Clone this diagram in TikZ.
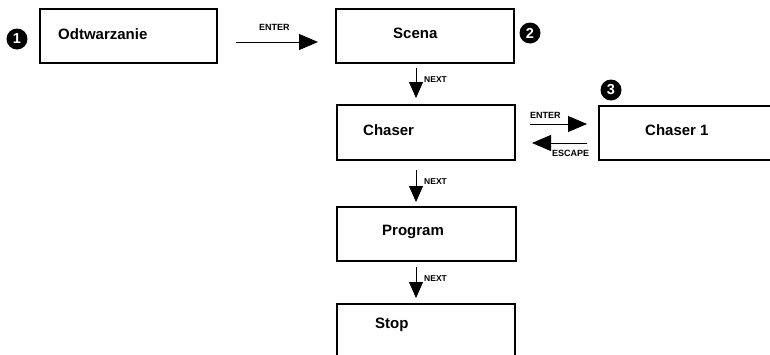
\documentclass[tikz,border=0pt]{standalone}
\usepackage{fontspec}
\setmainfont{Liberation Sans}
\usetikzlibrary{arrows.meta}
\begin{document}
\begin{tikzpicture}[x=1pt,y=-1pt,
  box/.style={draw=black,line width=1.1pt,inner sep=0pt,outer sep=0pt,minimum height=54pt},
  txt/.style={anchor=base west,inner sep=0pt,font=\fontsize{15}{15}\selectfont\bfseries},
  lbl/.style={anchor=base west,inner sep=0pt,font=\fontsize{8.5}{8.5}\selectfont\bfseries},
  num/.style={circle,fill=black,text=white,inner sep=0pt,minimum size=21pt,font=\fontsize{14.5}{14.5}\selectfont\bfseries},
  arrh/.style={line width=0.8pt,-{Triangle[length=19pt,width=16pt]}},
  arrv/.style={line width=0.8pt,-{Triangle[length=16pt,width=14pt]}},
]
\clip (0,0) rectangle (770,354);
\useasboundingbox (0,0) rectangle (770,354);

% boxes
\node[box,minimum width=177pt] (b1) at (128.5,36) {};
\node[box,minimum width=178pt] (scena) at (425,36) {};
\node[box,minimum width=178pt,minimum height=55pt] (chaser) at (426,132.5) {};
\node[box,minimum width=201pt] (chaser1) at (699.5,133) {};
\node[box,minimum width=179pt] (program) at (426.5,234) {};
\node[box,minimum width=178pt,minimum height=60pt] (stop) at (426,334) {};

% box texts
\node[txt] (t1) at (58,39) {Odtwarzanie};
\node[txt] (t2) at (393,38) {Scena};
\node[txt] (t3) at (363,135) {Chaser};
\node[txt] (t4) at (645,135) {Chaser 1};
\node[txt] (t5) at (382,235) {Program};
\node[txt] (t6) at (375,328) {Stop};

% number badges
\node[num] (n1) at (17,39) {1};
\node[num] (n2) at (530,33) {2};
\node[num] (n3) at (611,90) {3};

% connectors
\draw[arrh] ([shift={(19,6)}]b1.east) -- ([shift={(-18,6)}]scena.west);
\draw[arrv] ([shift={(-9,5)}]scena.south) -- ([shift={(-10,-7)}]chaser.north);
\draw[arrh] ([shift={(15,-8.5)}]chaser.east) -- ([shift={(-12,-9)}]chaser1.west);
\draw[arrh] ([shift={(-12,10)}]chaser1.west) -- ([shift={(17,10.5)}]chaser.east);
\draw[arrv] ([shift={(-10,10)}]chaser.south) -- ([shift={(-10.5,-5)}]program.north);
\draw[arrv] ([shift={(-10.5,6)}]program.south) -- ([shift={(-10,-6)}]stop.north);

% connector labels
\node[lbl,font=\fontsize{9}{9}\selectfont\bfseries] (l1) at (259,30.5) {ENTER};
\node[lbl] (l2) at (424,82) {NEXT};
\node[lbl,font=\fontsize{9}{9}\selectfont\bfseries] (l3) at (530,118.5) {ENTER};
\node[lbl,font=\fontsize{9}{9}\selectfont\bfseries] (l4) at (552,156.5) {ESCAPE};
\node[lbl] (l5) at (424,184) {NEXT};
\node[lbl] (l6) at (424,281) {NEXT};
\end{tikzpicture}
\end{document}
